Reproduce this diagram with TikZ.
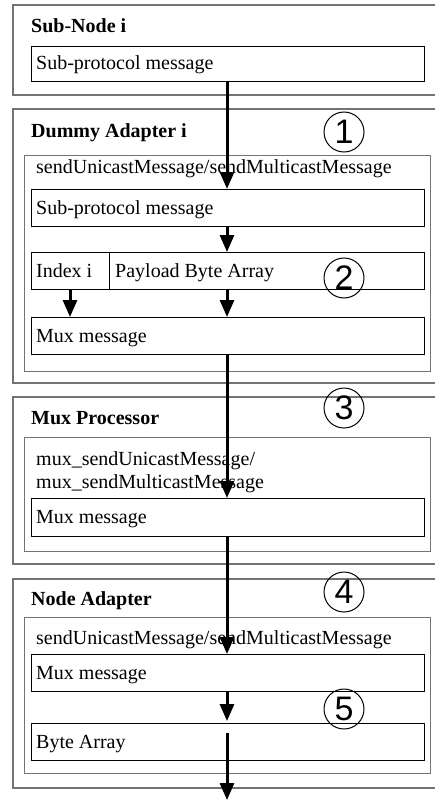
\documentclass[tikz,border=0pt]{standalone}
\usepackage{fontspec}
\setmainfont{Liberation Serif}
\newfontfamily\digitfont{Liberation Sans}
\usetikzlibrary{arrows.meta}
\tikzset{
  outerbox/.style={draw=black!55, line width=2pt, minimum width=440pt, anchor=north west, inner sep=0pt},
  panel/.style={draw=black!55, line width=1.4pt, minimum width=406pt, anchor=north west, inner sep=0pt},
  msgbox/.style={draw=black, line width=1pt, minimum height=37pt, anchor=north west, inner sep=0pt},
  lbl/.style={anchor=base west, inner sep=0pt, font=\fontsize{20}{24}\selectfont},
  ttl/.style={anchor=base west, inner sep=0pt, font=\fontsize{20}{24}\selectfont\bfseries},
  stepnum/.style={circle, draw=black, line width=1pt, minimum size=40pt, inner sep=0pt, font=\digitfont\fontsize{34}{34}\selectfont},
  arr/.style={line width=3pt, -{Triangle[length=17pt,width=14pt]}}
}
\begin{document}
\begin{tikzpicture}[x=1pt,y=-1pt]
\useasboundingbox (0,0) rectangle (435,800);
\clip (0,0) rectangle (435,800);
\coordinate (ax) at (227,0);
\coordinate (bx) at (70,0);
\coordinate (exit) at (227,800);

% outer containers
\node[outerbox, minimum height=90pt] (b1) at (12,4) {};
\node[outerbox, minimum height=274pt] (b2) at (12,108) {};
\node[outerbox, minimum height=167pt] (b3) at (12,396) {};
\node[outerbox, minimum height=209pt] (b4) at (12,578) {};

% inner panels
\node[panel, minimum height=216pt] (p2) at (24,155) {};
\node[panel, minimum height=114pt] (p3) at (24,437) {};
\node[panel, minimum height=156pt] (p4) at (24,617) {};

% message boxes
\node[msgbox, minimum width=393pt, minimum height=35pt] (m1) at (31,46) {};
\node[msgbox, minimum width=393pt] (m2) at (31,189) {};
\node[msgbox, minimum width=78pt] (m3a) at (31,252) {};
\node[msgbox, minimum width=315pt] (m3b) at (109,252) {};
\node[msgbox, minimum width=393pt] (m4) at (31,317) {};
\node[msgbox, minimum width=393pt, minimum height=38pt] (m5) at (31,498) {};
\node[msgbox, minimum width=393pt] (m6) at (31,654) {};
\node[msgbox, minimum width=393pt] (m7) at (31,723) {};

% titles
\node[ttl] (t1) at (31,33) {Sub-Node i};
\node[ttl] (t2) at (31,137) {Dummy Adapter i};
\node[ttl] (t3) at (31,424) {Mux Processor};
\node[ttl] (t4) at (31,605) {Node Adapter};

% panel texts
\node[lbl] (f2) at (36,173) {sendUnicastMessage/sendMulticastMessage};
\node[lbl] (f3a) at (36,465) {mux\_sendUnicastMessage/};
\node[lbl] (f3b) at (36,488) {mux\_sendMulticastMessage};
\node[lbl] (f4) at (36,644) {sendUnicastMessage/sendMulticastMessage};

% message texts
\node[lbl] (l1) at (36,70) {Sub-protocol message};
\node[lbl] (l2) at (36,214) {Sub-protocol message};
\node[lbl] (l3a) at (36,277) {Index i};
\node[lbl] (l3b) at (115,277) {Payload Byte Array};
\node[lbl] (l4) at (36,342) {Mux message};
\node[lbl] (l5) at (36,523) {Mux message};
\node[lbl] (l6) at (36,679) {Mux message};
\node[lbl] (l7) at (36,748) {Byte Array};

% step numbers
\node[stepnum] (s1) at (344,132) {1};
\node[stepnum] (s2) at (344,278) {2};
\node[stepnum] (s3) at (344,408) {3};
\node[stepnum] (s4) at (344,592) {4};
\node[stepnum] (s5) at (344,709) {5};

% arrows
\draw[arr] (m1.south -| ax) -- (m2.north -| ax);
\draw[arr] (m2.south -| ax) -- (m3b.north -| ax);
\draw[arr] (m3a.south -| bx) -- (m4.north -| bx);
\draw[arr] (m3b.south -| ax) -- (m4.north -| ax);
\draw[arr] (m4.south -| ax) -- (m5.north -| ax);
\draw[arr] (m5.south -| ax) -- (m6.north -| ax);
\draw[arr] (m6.south -| ax) -- ([yshift=2pt]m7.north -| ax);
\draw[arr] ([yshift=-10pt]m7.north -| ax) -- (exit);
\end{tikzpicture}
\end{document}
